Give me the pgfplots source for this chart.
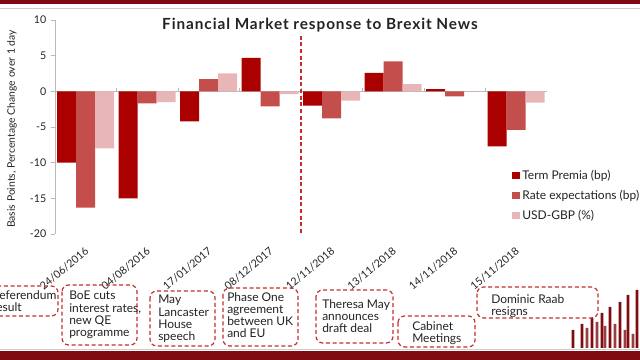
\documentclass[border=0pt]{standalone}
\usepackage{fontspec}
\setmainfont{Lato}
\usepackage{pgfplots}
\pgfplotsset{compat=1.18}
\definecolor{term}{RGB}{170,0,0}
\definecolor{rate}{RGB}{195,78,76}
\definecolor{usd}{RGB}{232,182,182}
\definecolor{boxred}{RGB}{196,45,45}
\definecolor{band}{RGB}{128,12,18}
\definecolor{axisgray}{RGB}{185,185,185}
\definecolor{txt}{RGB}{35,35,35}
\pgfplotsset{sqlegend/.style={legend image code/.code={\fill[##1] (0pt,-2.7pt) rectangle (5.5pt,2.7pt);}}}
\begin{document}
\begin{tikzpicture}
\useasboundingbox (0,0) rectangle (480pt,270pt);
% main chart
\begin{axis}[
  at={(41.25pt,94.5pt)}, anchor=south west,
  scale only axis, width=369pt, height=160.5pt,
  xmin=-0.5, xmax=7.5, ymin=-20, ymax=10,
  ybar=0pt, bar width=14.25pt,
  axis y line*=left, axis x line*=bottom,
  x axis line style={draw=none},
  y axis line style={axisgray, line width=0.6pt},
  xtick={0,...,7},
  xticklabels={24/06/2016,04/08/2016,17/01/2017,08/12/2017,12/11/2018,13/11/2018,14/11/2018,15/11/2018},
  xtick style={draw=none},
  ytick={-20,-15,-10,-5,0,5,10},
  yticklabels={-20,-15,-10,-5,0,5,10},
  ytick style={axisgray, line width=0.6pt},
  tick align=outside, major tick length=3pt,
  yticklabel style={font=\fontsize{8}{9}\selectfont, text=txt},
  xticklabel style={yshift=-8.5pt, xshift=1pt, rotate=40, anchor=east, inner sep=0pt, font=\fontsize{8}{9}\selectfont, text=txt},
  legend style={at={(0.929,0.313)}, anchor=north west, draw=none, fill=none,
    font=\fontsize{9}{10.5}\selectfont, text=txt, row sep=2.6pt, inner sep=0pt},
  legend cell align=left,
]
\draw[axisgray, line width=0.6pt] (axis cs:-0.5,0) -- (axis cs:7.5,0);
\draw[axisgray, line width=0.6pt] (axis cs:0.5,0) -- ++(0pt,2.5pt);
\draw[axisgray, line width=0.6pt] (axis cs:1.5,0) -- ++(0pt,2.5pt);
\draw[axisgray, line width=0.6pt] (axis cs:2.5,0) -- ++(0pt,2.5pt);
\draw[axisgray, line width=0.6pt] (axis cs:3.5,0) -- ++(0pt,2.5pt);
\draw[axisgray, line width=0.6pt] (axis cs:4.5,0) -- ++(0pt,2.5pt);
\draw[axisgray, line width=0.6pt] (axis cs:5.5,0) -- ++(0pt,2.5pt);
\draw[axisgray, line width=0.6pt] (axis cs:6.5,0) -- ++(0pt,2.5pt);
\addplot[fill=term, draw=none, sqlegend]
  coordinates {(0,-10) (1,-15) (2,-4.2) (3,4.7) (4,-2.0) (5,2.6) (6,0.3) (7,-7.7)};
\addplot[fill=rate, draw=none, sqlegend]
  coordinates {(0,-16.3) (1,-1.7) (2,1.7) (3,-2.1) (4,-3.8) (5,4.2) (6,-0.7) (7,-5.4)};
\addplot[fill=usd, draw=none, sqlegend]
  coordinates {(0,-8) (1,-1.5) (2,2.5) (3,-0.4) (4,-1.3) (5,1.0) (6,-0.05) (7,-1.6)};
\legend{Term Premia (bp),Rate expectations (bp),USD-GBP (\%)}
\draw[boxred, line width=0.9pt, dash pattern=on 3pt off 2pt] (axis cs:3.5,7.8) -- (axis cs:3.5,-20);
\end{axis}
% decorative bars bottom right
\begin{axis}[
  at={(423.75pt,9pt)}, anchor=south west,
  scale only axis, width=56.25pt, height=45pt,
  xmin=565, xmax=640, ymin=0, ymax=60, hide axis, clip=false,
]
\addplot[ybar, bar width=2.2pt, fill=band!80!white, draw=none]
  coordinates {(587,20) (597,26) (605,22) (615,24) (625,18) (633,14)};
\addplot[ybar, bar width=2.2pt, fill=band, draw=none]
  coordinates {(573,18) (582,24) (592,30) (602,35) (610,41) (620,46) (628,53) (637,58)};
\end{axis}
\begin{scope}[x=0.75pt, y=-0.75pt, shift={(0pt,270pt)}]
% bands
\fill[band] (0,0) rectangle (640,4.5);
\draw[axisgray!70, line width=0.5pt] (0,8) -- (640,8);
\draw[axisgray!70, line width=0.5pt] (0,349.5) -- (640,349.5);
\fill[band] (0,351.5) rectangle (640,360);
% title
\node[font=\bfseries\fontsize{11.5}{13}\selectfont\addfontfeature{LetterSpace=6}, text=txt] at (320,25) {Financial Market response to Brexit News};
% y label
\node[rotate=90, font=\fontsize{7.8}{9}\selectfont, text=txt] at (12,129) {Basis Points, Percentage Change over 1 day};
% annotation boxes
\tikzset{abox/.style={boxred, line width=0.9pt, dash pattern=on 3pt off 2pt, rounded corners=5pt},
         atxt/.style={anchor=north west, inner sep=0pt, align=left, text=txt, font=\fontsize{9}{9.2}\selectfont}}
\draw[abox] (-14,286) rectangle (58,316);
\node[atxt] at (-8,290) {Referendum\\result};
\draw[abox] (62,285) rectangle (137,345);
\node[atxt] at (69,291) {BoE cuts\\interest rates,\\new QE\\programme};
\draw[abox] (150,291) rectangle (215,346);
\node[atxt] at (158,295) {May\\Lancaster\\House\\speech};
\draw[abox] (223,288) rectangle (298,346);
\node[atxt] at (227,292) {Phase One\\agreement\\between UK\\and EU};
\draw[abox] (316,290) rectangle (393,343);
\node[atxt] at (322,299) {Theresa May\\announces\\draft deal};
\draw[abox] (398,316) rectangle (475,347);
\node[atxt] at (412,321) {Cabinet\\Meetings};
\draw[abox] (477,287) rectangle (598,318);
\node[atxt] at (491,294) {Dominic Raab\\resigns};
\end{scope}
\end{tikzpicture}
\end{document}
